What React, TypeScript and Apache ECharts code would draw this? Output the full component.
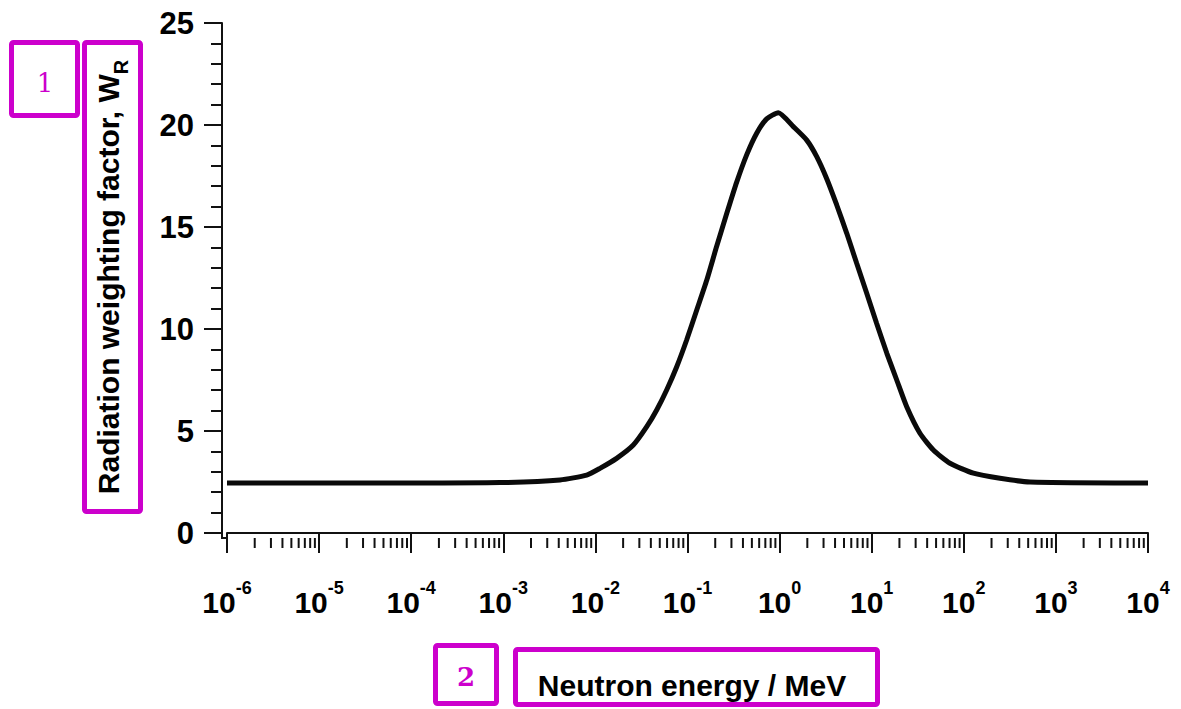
import React, { useEffect, useRef } from "react";
import * as echarts from "echarts";

// Neutron energy (MeV) and radiation weighting factor
const energies = [
  1e-6, 1e-4, 9.2e-4, 4.13e-3, 8.04e-3, 0.0112, 0.017, 0.0258, 0.0361, 0.0463,
  0.0594, 0.0764, 0.0979, 0.126, 0.162, 0.207, 0.267, 0.342, 0.44, 0.564, 0.724,
  0.968, 1.41, 1.97, 2.53, 3.24, 4.17, 5.36, 6.87, 8.83, 11.3, 14.6, 18.7, 24.0,
  33.4, 46.7, 70.8, 127, 247, 524, 1e4,
];
const wR = [
  2.45, 2.45, 2.47, 2.6, 2.84, 3.17, 3.66, 4.31, 5.21, 6.03, 7.01, 8.15, 9.46,
  10.93, 12.4, 14.04, 15.67, 17.2, 18.55, 19.6, 20.3, 20.6, 19.92, 19.26,
  18.45, 17.38, 16.08, 14.69, 13.22, 11.75, 10.28, 8.81, 7.5, 6.19, 4.89, 4.07,
  3.42, 2.93, 2.68, 2.5, 2.45,
];

// Axis ticks
const decadeValues = [1e-6, 1e-5, 1e-4, 1e-3, 1e-2, 1e-1, 1, 10, 100, 1000, 10000];
const decadeExponents = ["-6", "-5", "-4", "-3", "-2", "-1", "0", "1", "2", "3", "4"];
const minorMultipliers = [2, 3, 4, 5, 6, 7, 8, 9];
const yTicks = [0, 5, 10, 15, 20, 25];

const yTitle = "Radiation weighting factor, W";
const yTitleSub = "R";
const xTitle = "Neutron energy / MeV";

const FONT = "'Liberation Sans', Arial, Helvetica, sans-serif";
const MAGENTA = "#cc00cc";

export default function App() {
  const ref = useRef<HTMLDivElement>(null);

  useEffect(() => {
    if (!ref.current) return;
    const chart = echarts.init(ref.current, undefined, { renderer: "svg" });

    const minorTicks: number[][] = [];
    decadeValues.slice(0, -1).forEach((d) =>
      minorMultipliers.forEach((m) => minorTicks.push([m * d, 0]))
    );

    const option: any = {
      animation: false,
      backgroundColor: "#ffffff",
      grid: { left: 227, right: 33, top: 23, bottom: 176, containLabel: false },
      xAxis: {
        type: "log",
        logBase: 10,
        min: 1e-6,
        max: 1e4,
        splitNumber: 10,
        offset: 5,
        axisLine: { show: true, lineStyle: { color: "#111", width: 2 } },
        axisTick: {
          show: true,
          length: 20,
          inside: false,
          customValues: decadeValues,
          lineStyle: { color: "#111", width: 2 },
        },
        minorTick: { show: false },
        splitLine: { show: false },
        axisLabel: {
          margin: 41,
          color: "#000",
          customValues: decadeValues,
          formatter: (v: number) => {
            const i = decadeValues.findIndex((d) => Math.abs(Math.log10(d) - Math.log10(v)) < 0.01);
            return `{b|10}{s|${decadeExponents[i]}}`;
          },
          rich: {
            b: {
              fontFamily: FONT,
              fontWeight: "bold",
              fontSize: 30,
              lineHeight: 38,
              verticalAlign: "bottom",
              color: "#000",
            },
            s: {
              fontFamily: FONT,
              fontWeight: "bold",
              fontSize: 18,
              lineHeight: 18,
              verticalAlign: "top",
              color: "#000",
            },
          },
        },
      },
      yAxis: {
        type: "value",
        min: 0,
        max: 25,
        interval: 5,
        offset: 5,
        axisLine: { show: true, lineStyle: { color: "#111", width: 2 } },
        axisTick: { show: true, length: 18, inside: false, lineStyle: { color: "#111", width: 2 } },
        minorTick: { show: true, splitNumber: 5, length: 11, lineStyle: { color: "#111", width: 2 } },
        splitLine: { show: false },
        axisLabel: {
          margin: 28,
          fontFamily: FONT,
          fontWeight: "bold",
          fontSize: 31,
          color: "#000",
          formatter: (v: number) => (yTicks.includes(v) ? String(v) : ""),
        },
      },
      series: [
        {
          type: "line",
          data: energies.map((e, i) => [e, wR[i]]),
          showSymbol: false,
          smooth: 0.2,
          lineStyle: { color: "#0a0a0a", width: 5 },
          z: 5,
        },
        {
          type: "custom",
          data: minorTicks,
          clip: false,
          silent: true,
          encode: { x: 0, y: 1 },
          renderItem: (params: any, api: any) => {
            const p = api.coord([api.value(0), 0]);
            return {
              type: "line",
              shape: { x1: p[0], y1: p[1] + 5, x2: p[0], y2: p[1] + 15 },
              style: { stroke: "#111", lineWidth: 2 },
            };
          },
        },
      ],
      graphic: [
        // corner joining the two offset axes
        { type: "line", shape: { x1: 222, y1: 532, x2: 222, y2: 538 }, style: { stroke: "#111", lineWidth: 2 } },
        { type: "line", shape: { x1: 221, y1: 538, x2: 228, y2: 538 }, style: { stroke: "#111", lineWidth: 2 } },
        // y axis title
        {
          type: "text",
          x: 112,
          y: 277,
          rotation: Math.PI / 2,
          style: {
            text: `{a|${yTitle}}{s|${yTitleSub}}`,
            align: "center",
            verticalAlign: "middle",
            rich: {
              a: { fontFamily: FONT, fontWeight: "bold", fontSize: 30, lineHeight: 38, verticalAlign: "top", fill: "#000" },
              s: { fontFamily: FONT, fontWeight: "bold", fontSize: 20, lineHeight: 20, verticalAlign: "bottom", fill: "#000" },
            },
          },
        },
        // x axis title
        {
          type: "text",
          x: 692,
          y: 685,
          style: {
            text: xTitle,
            align: "center",
            verticalAlign: "middle",
            fontFamily: FONT,
            fontWeight: "bold",
            fontSize: 30,
            fill: "#000",
          },
        },
        // magenta annotation boxes
        { type: "rect", shape: { x: 11.5, y: 42.5, width: 66, height: 73, r: 2 }, style: { fill: "none", stroke: MAGENTA, lineWidth: 5 } },
        { type: "rect", shape: { x: 84.5, y: 42.5, width: 56, height: 469, r: 2 }, style: { fill: "none", stroke: MAGENTA, lineWidth: 5 } },
        { type: "rect", shape: { x: 435.5, y: 645.5, width: 61, height: 58, r: 2 }, style: { fill: "none", stroke: MAGENTA, lineWidth: 5 } },
        { type: "rect", shape: { x: 515.5, y: 649.5, width: 362, height: 55, r: 2 }, style: { fill: "none", stroke: MAGENTA, lineWidth: 5 } },
        {
          type: "text",
          x: 45,
          y: 83,
          style: { text: "1", align: "center", verticalAlign: "middle", fontFamily: "'DejaVu Serif', serif", fontSize: 26, fill: MAGENTA },
        },
        {
          type: "text",
          x: 466,
          y: 677,
          style: { text: "2", align: "center", verticalAlign: "middle", fontFamily: "'DejaVu Serif', serif", fontWeight: "bold", fontSize: 26, fill: MAGENTA },
        },
      ],
    };

    chart.setOption(option);
    return () => chart.dispose();
  }, []);

  return (
    <div
      ref={ref}
      style={{ position: "fixed", left: 0, top: 0, width: 1181, height: 709, background: "#fff" }}
    />
  );
}
